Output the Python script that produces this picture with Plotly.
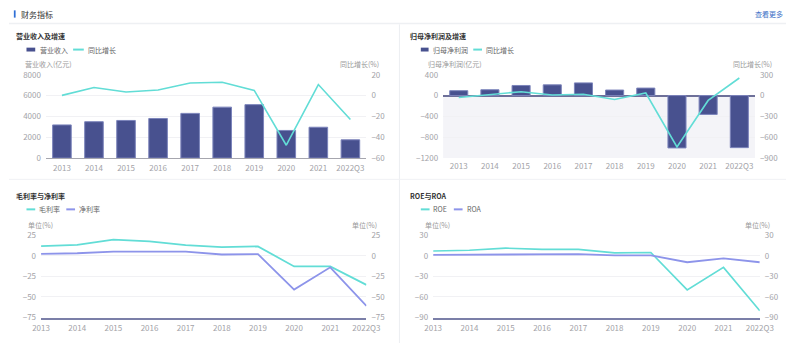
import plotly.graph_objects as go

W, H = 800, 348

years = ["2013", "2014", "2015", "2016", "2017", "2018", "2019", "2020", "2021", "2022Q3"]
revenue = [3180, 3490, 3610, 3800, 4290, 4890, 5130, 2650, 2960, 1750]
revenue_yoy = [0.2, 7.8, 3.4, 5.3, 12.1, 12.8, 5.0, -47.7, 10.6, -23.0]
net_profit = [94, 112, 194, 206, 244, 106, 144, -1006, -362, -1000]
net_profit_yoy = [-28, 10, 56, 9, 19, -56, 37, -740, -70, 253]
gross_margin = [11.8, 13.3, 19.6, 17.6, 12.9, 10.6, 11.4, -12.9, -12.9, -35.3]
net_margin = [2.4, 3.1, 5.1, 5.1, 5.1, 1.6, 2.0, -41.0, -14.0, -60.8]
roe = [7.0, 8.0, 11.2, 9.4, 9.4, 4.2, 4.7, -49.7, -16.9, -80.2]
roa = [1.4, 1.4, 2.3, 2.3, 2.3, 0.5, 0.5, -9.4, -3.8, -9.4]

BAR = "#48518f"
BAR_EDGE = "#7c84bb"
CYAN = "#62ddd6"
PURPLE = "#8d94ea"
TICK = "#a3a3a8"
GRID = "#f1f1f4"
FONT = "Noto Sans CJK SC, Noto Sans, sans-serif"


def px(x):
    return x / W


def py(y):
    return 1 - y / H


fig = go.Figure()

# Panel 1
fig.add_trace(go.Bar(x=years, y=revenue, xaxis="x", yaxis="y", marker=dict(color=BAR, line=dict(color=BAR_EDGE, width=1)), width=0.58, name="营业收入"))
fig.add_trace(go.Scatter(x=years, y=revenue_yoy, xaxis="x", yaxis="y2", mode="lines", line=dict(color=CYAN, width=1.6), name="同比增长"))
# Panel 2
fig.add_trace(go.Bar(x=years, y=net_profit, xaxis="x2", yaxis="y3", marker=dict(color=BAR, line=dict(color=BAR_EDGE, width=1)), width=0.58, name="归母净利润"))
fig.add_trace(go.Scatter(x=years, y=net_profit_yoy, xaxis="x2", yaxis="y4", mode="lines", line=dict(color=CYAN, width=1.6), name="同比增长"))
# Panel 3
fig.add_trace(go.Scatter(x=years, y=gross_margin, xaxis="x3", yaxis="y5", mode="lines", line=dict(color=CYAN, width=1.8), name="毛利率"))
fig.add_trace(go.Scatter(x=years, y=net_margin, xaxis="x3", yaxis="y6", mode="lines", line=dict(color=PURPLE, width=1.8), name="净利率"))
# Panel 4
fig.add_trace(go.Scatter(x=years, y=roe, xaxis="x4", yaxis="y7", mode="lines", line=dict(color=CYAN, width=1.6), name="ROE"))
fig.add_trace(go.Scatter(x=years, y=roa, xaxis="x4", yaxis="y8", mode="lines", line=dict(color=PURPLE, width=1.8), name="ROA"))

tickfont = dict(family=FONT, size=8, color=TICK)

top_dom = [py(157), py(71)]
bot_dom = [py(321.7), py(236.7)]


def xax(dom, anchor, rng, line=False, lcolor="#9a9aa6", lwidth=1):
    return dict(domain=dom, anchor=anchor, type="category", range=rng, showgrid=False,
                zeroline=False, showline=line, linecolor=lcolor, linewidth=lwidth,
                ticks="", tickfont=tickfont, ticklabelstandoff=2, fixedrange=True)


def yax(dom, anchor, rng, dtick, side="left", overlay=None, grid=True, zl=False, zlc="#6e7099"):
    d = dict(domain=dom, anchor=anchor, range=rng, dtick=dtick, side=side, showgrid=grid,
             gridcolor=GRID, gridwidth=1, zeroline=zl, zerolinecolor=zlc, zerolinewidth=1.5,
             showline=False, ticks="", tickfont=tickfont, ticklabelstandoff=4, fixedrange=True)
    if overlay:
        d["overlaying"] = overlay
    return d


fig.update_layout(
    width=W, height=H, margin=dict(l=0, r=0, t=0, b=0),
    paper_bgcolor="white", plot_bgcolor="rgba(0,0,0,0)",
    showlegend=False, bargap=0.42,
    font=dict(family=FONT, color="#333"),
    xaxis=xax([px(38), px(368)], "y", [-0.5, 9.5], line=True, lcolor="#a6a6ae", lwidth=1.2),
    yaxis=yax(top_dom, "x", [0, 8000], 2000),
    yaxis2=yax(top_dom, "x", [-60, 20], 20, side="right", overlay="y", grid=False),
    xaxis2=xax([px(447), px(768)], "y3", [-0.5, 9.5]),
    yaxis3=yax(top_dom, "x2", [-1200, 400], 400, zl=True),
    yaxis4=yax(top_dom, "x2", [-900, 300], 300, side="right", overlay="y3", grid=False),
    xaxis3=xax([px(33), px(368)], "y5", [0, 9], line=True, lcolor="#7b7fa8", lwidth=2.2),
    yaxis5=yax(bot_dom, "x3", [-75, 25], 25),
    yaxis6=yax(bot_dom, "x3", [-75, 25], 25, side="right", overlay="y5", grid=False),
    xaxis4=xax([px(436.7), px(773)], "y7", [0, 9], line=True, lcolor="#7b7fa8", lwidth=2.2),
    yaxis7=yax(bot_dom, "x4", [-90, 30], 30),
    yaxis8=yax(bot_dom, "x4", [-90, 30], 30, side="right", overlay="y7", grid=False),
)

shapes = []
# shaded negative area in panel 2
shapes.append(dict(type="rect", xref="x2 domain", yref="y3", x0=0, x1=1, y0=-1200, y1=0,
                   fillcolor="#f4f4f8", line=dict(width=0), layer="below"))
# header bar and dividers
shapes.append(dict(type="rect", xref="paper", yref="paper", x0=px(5), x1=px(6.8), y0=py(12), y1=py(4.5),
                   fillcolor="#2f6fd6", line=dict(width=0)))
shapes.append(dict(type="line", xref="paper", yref="paper", x0=0, x1=1, y0=py(18), y1=py(18),
                   line=dict(color="#eef0f3", width=1.5)))
shapes.append(dict(type="line", xref="paper", yref="paper", x0=px(402), x1=px(402), y0=py(19), y1=py(348),
                   line=dict(color="#eceef2", width=1)))
shapes.append(dict(type="line", xref="paper", yref="paper", x0=0, x1=1, y0=py(179), y1=py(179),
                   line=dict(color="#f0f1f4", width=1)))

annotations = []


def text(x, y, s, size=7, color="#333", anchor="left", bold=False):
    annotations.append(dict(x=px(x), y=py(y), xref="paper", yref="paper", text=(f"<b>{s}</b>" if bold else s),
                            showarrow=False, xanchor=anchor, yanchor="middle",
                            font=dict(family=FONT, size=size, color=color)))


def bar_swatch(x0, x1, y):
    shapes.append(dict(type="rect", xref="paper", yref="paper", x0=px(x0), x1=px(x1), y0=py(y + 2), y1=py(y - 2),
                       fillcolor=BAR, line=dict(width=0)))


def line_swatch(x0, x1, y, color):
    shapes.append(dict(type="line", xref="paper", yref="paper", x0=px(x0), x1=px(x1), y0=py(y), y1=py(y),
                       line=dict(color=color, width=2)))


text(10.5, 8.5, "财务指标", size=8, color="#333")
text(799, 8.5, "查看更多", size=7, color="#3b6fc6", anchor="right")

# panel titles
text(5, 31, "营业收入及增速", size=7, bold=True)
text(411, 31, "归母净利润及增速", size=7, bold=True)
text(5, 196, "毛利率与净利率", size=7, bold=True)
text(411, 196, "ROE与ROA", size=7, bold=True)

# legends
bar_swatch(18, 27, 45)
text(29.5, 45, "营业收入", color="#666")
line_swatch(66, 77, 45, CYAN)
text(79.5, 45, "同比增长", color="#666")

bar_swatch(424, 432, 45)
text(434.5, 45, "归母净利润", color="#666")
line_swatch(478, 487, 45, CYAN)
text(489.5, 45, "同比增长", color="#666")

line_swatch(18, 27, 210, CYAN)
text(29, 210, "毛利率", color="#666")
line_swatch(59, 68, 210, PURPLE)
text(69.5, 210, "净利率", color="#666")

line_swatch(424, 433, 210, CYAN)
text(435, 210, "ROE", color="#666")
line_swatch(458, 467, 210, PURPLE)
text(469, 210, "ROA", color="#666")

# axis titles
text(41, 60, "营业收入(亿元)", color="#999", anchor="center")
text(361, 60, "同比增长(%)", color="#999", anchor="center")
text(459, 60, "归母净利润(亿元)", color="#999", anchor="center")
text(765, 60, "同比增长(%)", color="#999", anchor="center")
text(32, 226.5, "单位(%)", color="#999", anchor="center")
text(366, 226.5, "单位(%)", color="#999", anchor="center")
text(441, 226.5, "单位(%)", color="#999", anchor="center")
text(771, 226.5, "单位(%)", color="#999", anchor="center")

fig.update_layout(shapes=shapes, annotations=annotations)

fig.write_html("out.html")
